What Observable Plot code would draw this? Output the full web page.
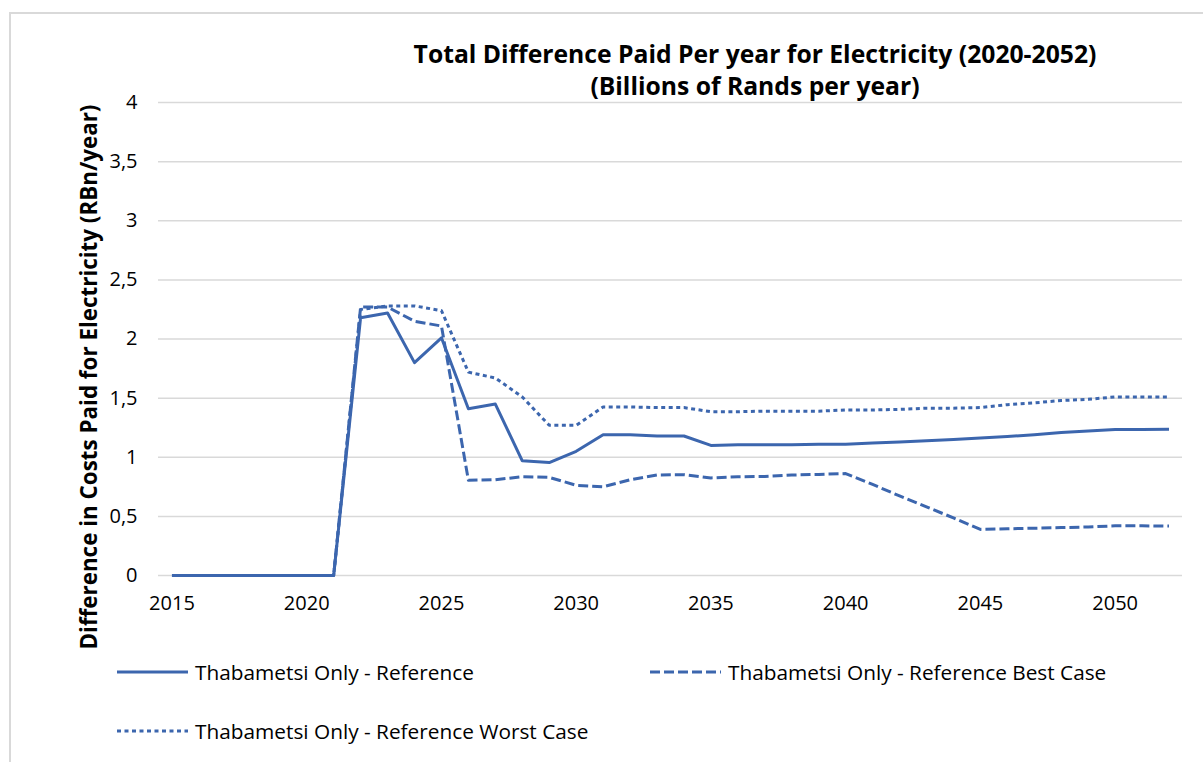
<!DOCTYPE html>
<html>
<head>
<meta charset="utf-8">
<script src="https://cdn.jsdelivr.net/npm/d3@7"></script>
<script src="https://cdn.jsdelivr.net/npm/@observablehq/plot@0.6"></script>
<style>
  html, body { margin: 0; padding: 0; background: #fff; }
  #page { position: relative; width: 1203px; height: 762px; overflow: hidden; font-family: "Open Sans", sans-serif; }
  #frame { position: absolute; left: 9px; top: 12px; width: 1300px; height: 800px; border-left: 2px solid #d9d9d9; border-top: 2px solid #d9d9d9; }
  #chart { position: absolute; left: 0; top: 0; }
  .title { position: absolute; left: 355px; width: 800px; text-align: center; font-weight: bold; font-size: 24.7px; color: #000; white-space: nowrap; }
  #ylabel { position: absolute; left: 88px; top: 377px; transform: translate(-50%, -50%) rotate(-90deg); font-weight: bold; font-size: 22.4px; white-space: nowrap; color: #000; }
  .leg { position: absolute; display: flex; align-items: center; font-size: 20.8px; color: #000; white-space: nowrap; }
  .leg svg { margin-right: 7px; }
</style>
</head>
<body>
<div id="page">
  <div id="frame"></div>
  <div id="chart"></div>
  <div class="title" style="top:37px">Total Difference Paid Per year for Electricity (2020-2052)</div>
  <div class="title" style="top:69px">(Billions of Rands per year)</div>
  <div id="ylabel">Difference in Costs Paid for Electricity (RBn/year)</div>
  <div id="legend"></div>
</div>
<script>
const years = [2015, 2016, 2017, 2018, 2019, 2020, 2021, 2022, 2023, 2024, 2025, 2026, 2027, 2028, 2029, 2030, 2031, 2032, 2033, 2034, 2035, 2036, 2037, 2038, 2039, 2040, 2041, 2042, 2043, 2044, 2045, 2046, 2047, 2048, 2049, 2050, 2051, 2052];

const reference = [0, 0, 0, 0, 0, 0, 0,
  2.18, 2.22, 1.80, 2.01, 1.41, 1.45, 0.97, 0.955, 1.05, 1.19,
  1.19, 1.18, 1.18, 1.10, 1.105, 1.105, 1.105, 1.11,
  1.11, 1.12, 1.13, 1.14, 1.15, 1.163, 1.175, 1.19, 1.21, 1.222, 1.234, 1.234, 1.237];

const bestCase = [0, 0, 0, 0, 0, 0, 0,
  2.27, 2.27, 2.15, 2.11, 0.805, 0.81, 0.835, 0.83, 0.763, 0.75,
  0.81, 0.85, 0.853, 0.825, 0.835, 0.838, 0.85, 0.855,
  0.862, 0.77, 0.673, 0.58, 0.487, 0.39, 0.395, 0.40, 0.405, 0.41, 0.42, 0.42, 0.418];

const worstCase = [0, 0, 0, 0, 0, 0, 0,
  2.25, 2.28, 2.28, 2.24, 1.72, 1.67, 1.51, 1.27, 1.27, 1.425,
  1.425, 1.42, 1.42, 1.385, 1.385, 1.39, 1.39, 1.39,
  1.40, 1.40, 1.405, 1.415, 1.415, 1.42, 1.445, 1.46, 1.48, 1.49, 1.51, 1.51, 1.51];

const seriesNames = ["Thabametsi Only - Reference", "Thabametsi Only - Reference Best Case", "Thabametsi Only - Reference Worst Case"];
const xTicks = [2015, 2020, 2025, 2030, 2035, 2040, 2045, 2050];
const yTicks = [0, 0.5, 1, 1.5, 2, 2.5, 3, 3.5, 4];

const lineColor = "#3c66ae";
const dashes = [null, "10,4", "4,3.5"];

const seriesValues = [reference, bestCase, worstCase];
const rows = [];
seriesValues.forEach((vals, s) => {
  vals.forEach((v, i) => rows.push({series: seriesNames[s], year: years[i], value: v}));
});

const chart = Plot.plot({
  width: 1203,
  height: 622,
  marginLeft: 158,
  marginRight: 21,
  marginTop: 102,
  marginBottom: 47,
  style: {fontFamily: "'Open Sans', sans-serif", fontSize: "20px", color: "#000", background: "transparent"},
  x: {domain: [2014.5, 2052.5], label: null},
  y: {domain: [0, 4], label: null},
  marks: [
    Plot.gridY(yTicks, {stroke: "#d9d9d9", strokeOpacity: 1, strokeWidth: 1.5}),
    Plot.axisX(xTicks, {tickSize: 0, tickPadding: 20, tickFormat: d => String(d), fontSize: 20}),
    Plot.axisY(yTicks, {tickSize: 0, tickPadding: 21, tickFormat: d => String(d).replace(".", ","), fontSize: 20}),
    ...[2, 1, 0].map(s => Plot.line(rows.filter(r => r.series === seriesNames[s]), {
      x: "year", y: "value", stroke: lineColor, strokeWidth: 3,
      strokeDasharray: dashes[s], strokeLinejoin: "round", strokeLinecap: "butt"
    }))
  ]
});
document.getElementById("chart").appendChild(chart);

// legend
const legendPos = [[117, 672], [650, 672], [117, 731]];
const legend = document.getElementById("legend");
seriesNames.forEach((name, s) => {
  const item = document.createElement("div");
  item.className = "leg";
  item.style.left = legendPos[s][0] + "px";
  item.style.top = (legendPos[s][1] - 15) + "px";
  item.style.height = "30px";
  const dash = dashes[s] ? `stroke-dasharray="${dashes[s]}"` : "";
  item.innerHTML = `<svg width="71" height="10"><line x1="0" y1="5" x2="71" y2="5" stroke="${lineColor}" stroke-width="3" ${dash}/></svg><span>${name}</span>`;
  legend.appendChild(item);
});
</script>
</body>
</html>
